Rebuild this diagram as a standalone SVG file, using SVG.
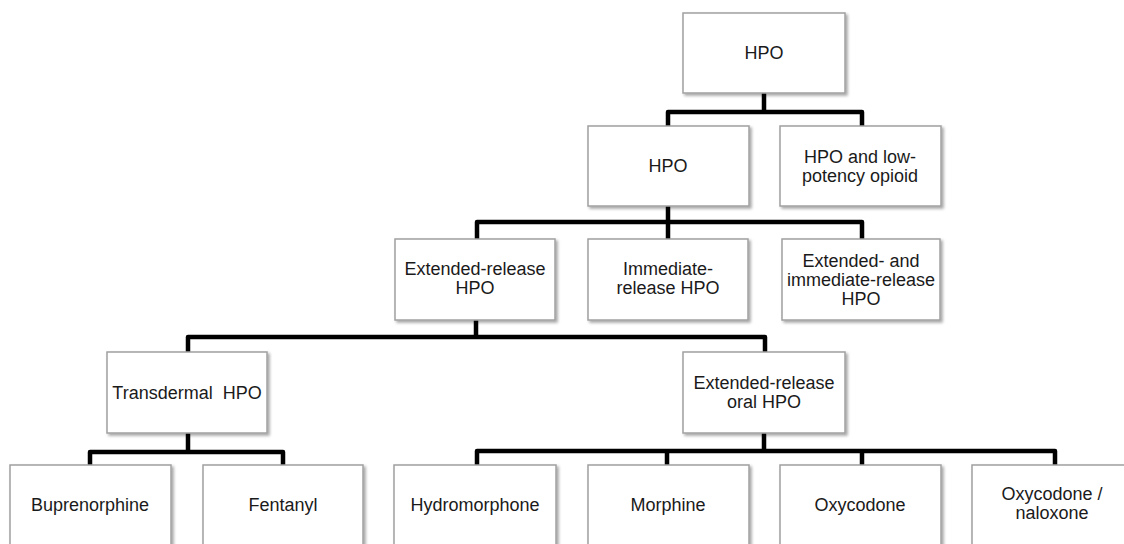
<svg xmlns="http://www.w3.org/2000/svg" width="1124" height="544" viewBox="0 0 1124 544">
<defs>
<filter id="sh" x="-10%" y="-10%" width="130%" height="130%">
<feDropShadow dx="2" dy="2" stdDeviation="1.5" flood-color="#000" flood-opacity="0.35"/>
</filter>
<style>
.box{fill:#fff;stroke:#a0a0a0;stroke-width:1.5;filter:url(#sh)}
.t{font-family:"Liberation Sans",Arial,sans-serif;font-size:18px;fill:#1a1a1a;text-anchor:middle}
.c{fill:none;stroke:#000;stroke-width:4.5;stroke-linejoin:round;stroke-linecap:butt}
</style>
</defs>
<rect width="1124" height="544" fill="#fff"/>
<g id="connectors">
<path class="c" d="M764,93 V112 M668,126 V112 H862 V126"/>
<path class="c" d="M668,206 V239 M477,239 V222 H862 V239"/>
<path class="c" d="M476,320 V337 M188,352 V337 H765 V352"/>
<path class="c" d="M188,433 V452 M90,465 V452 H283 V465"/>
<path class="c" d="M764,433 V451 M477,465 V451 H1055 V465 M667,451 V465 M862,451 V465"/>
</g>
<g id="n1"><rect class="box" x="683" y="13" width="162" height="80"/><text class="t" x="764" y="59">HPO</text></g>
<g id="n2"><rect class="box" x="588" y="126" width="161" height="80"/><text class="t" x="668" y="172">HPO</text></g>
<g id="n3"><rect class="box" x="780" y="126" width="161" height="80"/><text class="t" x="860" y="163">HPO and low-</text><text class="t" x="860" y="182">potency opioid</text></g>
<g id="n4"><rect class="box" x="395" y="239" width="160" height="81"/><text class="t" x="475" y="275">Extended-release</text><text class="t" x="475" y="294">HPO</text></g>
<g id="n5"><rect class="box" x="588" y="239" width="160" height="81"/><text class="t" x="668" y="275">Immediate-</text><text class="t" x="668" y="294">release HPO</text></g>
<g id="n6"><rect class="box" x="782" y="239" width="158" height="81"/><text class="t" x="861" y="267">Extended- and</text><text class="t" x="861" y="286">immediate-release</text><text class="t" x="861" y="305">HPO</text></g>
<g id="n7"><rect class="box" x="107" y="352" width="160" height="81"/><text class="t" x="187" y="399">Transdermal&#160; HPO</text></g>
<g id="n8"><rect class="box" x="683" y="352" width="162" height="81"/><text class="t" x="764" y="389">Extended-release</text><text class="t" x="764" y="408">oral HPO</text></g>
<g id="n9"><rect class="box" x="10" y="465" width="161" height="82"/><text class="t" x="90" y="511">Buprenorphine</text></g>
<g id="n10"><rect class="box" x="203" y="465" width="160" height="82"/><text class="t" x="283" y="511">Fentanyl</text></g>
<g id="n11"><rect class="box" x="394" y="465" width="162" height="82"/><text class="t" x="475" y="511">Hydromorphone</text></g>
<g id="n12"><rect class="box" x="588" y="465" width="161" height="82"/><text class="t" x="668" y="511">Morphine</text></g>
<g id="n13"><rect class="box" x="780" y="465" width="161" height="82"/><text class="t" x="860" y="511">Oxycodone</text></g>
<g id="n14"><rect class="box" x="972" y="465" width="161" height="82"/><text class="t" x="1052" y="500">Oxycodone /</text><text class="t" x="1052" y="519">naloxone</text></g>
</svg>
